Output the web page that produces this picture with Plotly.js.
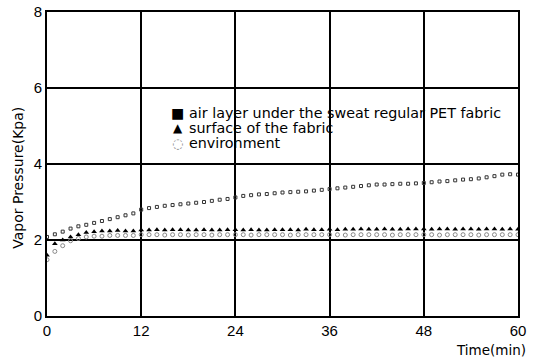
<!DOCTYPE html>
<html>
<head>
<meta charset="utf-8">
<script src="https://cdn.plot.ly/plotly-3.0.1.min.js"></script>
<style>html,body{margin:0;padding:0;background:#fff;}#chart{width:534px;height:359px;}</style>
</head>
<body>
<div id="chart"></div>
<script>
// Time (min)
var timeMin = [0,1,2,3,4,5,6,7,8,9,10,11,12,13,14,15,16,17,18,19,20,21,22,23,24,25,26,27,28,29,30,31,32,33,34,35,36,37,38,39,40,41,42,43,44,45,46,47,48,49,50,51,52,53,54,55,56,57,58,59,60];
// air layer under the sweat regular PET fabric (kPa)
var airLayer = [2.08,2.15,2.22,2.30,2.36,2.40,2.45,2.50,2.55,2.60,2.65,2.70,2.80,2.84,2.87,2.90,2.92,2.94,2.96,2.98,3.00,3.03,3.06,3.08,3.12,3.16,3.18,3.20,3.21,3.23,3.25,3.26,3.27,3.28,3.30,3.32,3.34,3.36,3.38,3.40,3.42,3.44,3.46,3.46,3.47,3.48,3.48,3.49,3.50,3.52,3.54,3.55,3.57,3.59,3.60,3.62,3.65,3.68,3.72,3.73,3.72];
// surface of the fabric (kPa)
var surface = [1.60,1.90,2.00,2.08,2.14,2.20,2.22,2.24,2.24,2.25,2.24,2.24,2.26,2.26,2.27,2.26,2.27,2.27,2.26,2.26,2.27,2.26,2.26,2.27,2.27,2.26,2.27,2.26,2.26,2.27,2.27,2.27,2.26,2.28,2.27,2.27,2.28,2.27,2.28,2.28,2.29,2.28,2.28,2.29,2.28,2.28,2.29,2.29,2.29,2.28,2.29,2.29,2.28,2.29,2.29,2.28,2.29,2.29,2.28,2.29,2.28];
// environment (kPa)
var environment = [1.48,1.70,1.85,1.98,2.04,2.08,2.10,2.10,2.12,2.12,2.12,2.12,2.14,2.14,2.14,2.13,2.14,2.14,2.13,2.14,2.14,2.13,2.14,2.14,2.14,2.14,2.13,2.14,2.14,2.14,2.14,2.13,2.14,2.14,2.14,2.14,2.14,2.14,2.13,2.14,2.14,2.14,2.14,2.14,2.13,2.14,2.14,2.14,2.14,2.14,2.13,2.14,2.14,2.14,2.14,2.13,2.14,2.14,2.14,2.14,2.14];
var seriesNames = ["air layer under the sweat regular PET fabric","surface of the fabric","environment"];
var legendSymbols = ["\u25A0","\u25B2","\u25CC"];
var xTicks = [0,12,24,36,48,60];
var yTicks = [0,2,4,6,8];

var font = "Liberation Sans, Arial, sans-serif";
var font2 = "DejaVu Sans, sans-serif";
var traces = [
  {x: timeMin, y: environment, mode: "markers", type: "scatter", showlegend: false,
   marker: {symbol: "circle-open", size: 4, color: "#888", line: {width: 1, color: "#888"}}},
  {x: timeMin, y: surface, mode: "markers", type: "scatter", showlegend: false,
   marker: {symbol: "triangle-up", size: 5, color: "#000"}},
  {x: timeMin, y: airLayer, mode: "markers", type: "scatter", showlegend: false,
   marker: {symbol: "square-open", size: 3, color: "#333", line: {width: 1, color: "#333"}}}
];

var legendRowsY = [0.668, 0.618, 0.569];
var symColors = ["#000", "#000", "#888"];
var symSizes = [14, 12, 13];
var annotations = [];
for (var i = 0; i < seriesNames.length; i++) {
  annotations.push({text: legendSymbols[i], xref: "paper", yref: "paper", x: 0.278, y: legendRowsY[i],
    xanchor: "center", yanchor: "middle", showarrow: false,
    font: {family: font2, size: symSizes[i], color: symColors[i]}});
  annotations.push({text: seriesNames[i], xref: "paper", yref: "paper", x: 0.298, y: legendRowsY[i],
    xanchor: "left", yanchor: "middle", showarrow: false,
    font: {family: font2, size: 14.3, color: "#000"}});
}
annotations.push({text: "Time(min)", xref: "paper", yref: "paper", x: 1.021, y: -0.112, xanchor: "right",
  yanchor: "middle", showarrow: false, font: {family: font2, size: 13.5, color: "#000"}});
annotations.push({text: "Vapor Pressure(Kpa)", xref: "paper", yref: "paper", x: -0.062, y: 0.454,
  xanchor: "center", yanchor: "middle", textangle: -90, showarrow: false,
  font: {family: font2, size: 14, color: "#000"}});

var layout = {
  width: 534, height: 359,
  margin: {l: 47, r: 16, t: 12, b: 43},
  paper_bgcolor: "#fff", plot_bgcolor: "#fff",
  font: {family: font, color: "#000"},
  showlegend: false,
  xaxis: {range: [0, 60], tickvals: xTicks, ticktext: xTicks.map(String), showgrid: true,
          gridcolor: "#000", gridwidth: 2, zeroline: false, showline: true, linecolor: "#000",
          linewidth: 2, mirror: true, ticks: "", tickfont: {family: font, size: 15}, fixedrange: true},
  yaxis: {range: [0, 8], tickvals: yTicks, ticktext: yTicks.map(String), showgrid: true,
          gridcolor: "#000", gridwidth: 2, zeroline: false, showline: true, linecolor: "#000",
          linewidth: 2, mirror: true, ticks: "", tickfont: {family: font, size: 15}},
  annotations: annotations
};

Plotly.newPlot("chart", traces, layout, {displayModeBar: false, staticPlot: true});
</script>
</body>
</html>
